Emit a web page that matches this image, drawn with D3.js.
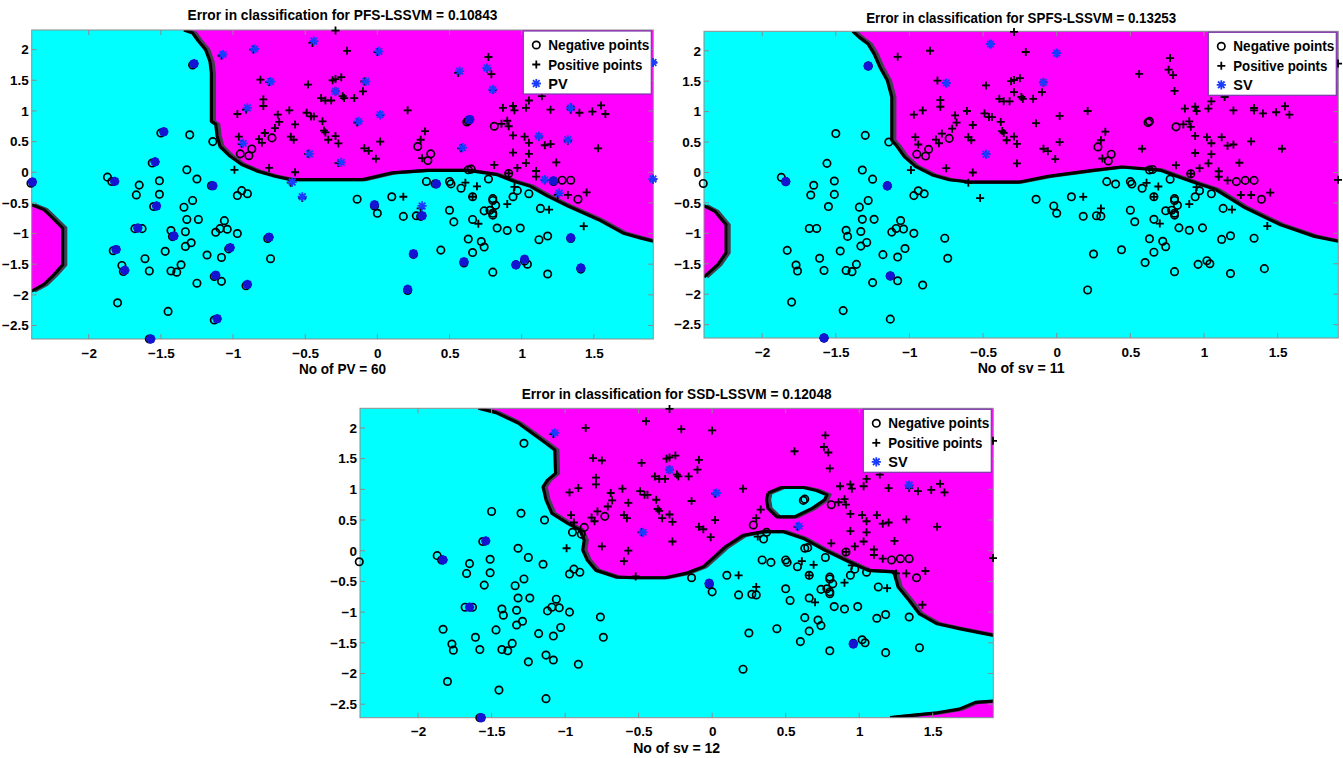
<!DOCTYPE html>
<html>
<head>
<meta charset="utf-8">
<script src="https://cdn.jsdelivr.net/npm/d3@7"></script>
<style>
  body { margin: 0; background: #fff; }
  text { font-family: "Liberation Sans", Arial, sans-serif; font-weight: bold; fill: #000; }
</style>
</head>
<body>
<svg id="chart" width="1343" height="758"></svg>
<script>
// data set (same points in all three panels)
var negativePoints = [
  [-2.40,-0.18],[-1.28,1.75],[-1.50,0.64],[-1.30,0.61],[-1.14,0.50],[-1.56,0.15],[-1.32,0.04],
  [-1.87,-0.08],[-1.84,-0.15],[-1.65,-0.21],[-1.51,-0.14],[-1.25,-0.11],[-1.15,-0.22],
  [-0.97,-0.38],[-0.94,-0.30],[-0.90,-0.35],[-1.67,-0.37],[-1.51,-0.36],[-1.55,-0.56],
  [-1.34,-0.57],[-1.28,-0.46],[-1.32,-0.77],[-1.24,-0.77],[-1.68,-0.92],[-1.63,-0.92],
  [-1.43,-0.95],[-1.42,-1.05],[-1.33,-0.97],[-1.29,-1.15],[-1.33,-1.21],[-1.47,-1.29],
  [-1.61,-1.41],[-1.83,-1.28],[-1.77,-1.52],[-1.76,-1.62],[-1.58,-1.61],[-1.43,-1.61],
  [-1.39,-1.63],[-1.36,-1.51],[-1.18,-1.35],[-1.08,-1.39],[-1.06,-0.79],[-1.12,-0.98],
  [-1.09,-0.92],[-1.04,-0.93],[-0.97,-1.00],[-1.03,-1.25],[-1.13,-1.70],[-1.08,-1.78],
  [-1.25,-1.81],[-0.91,-1.85],[-1.80,-2.13],[-1.45,-2.27],[-1.13,-2.41],[-1.58,-2.72],
  [-0.76,-1.08],[-0.74,-1.41],[-0.95,0.30],[-0.89,0.27],[-0.87,0.38],[-0.73,0.56],
  [0.28,0.42],[0.37,0.30],[0.35,0.19],[0.63,0.04],[0.65,0.05],[0.91,-0.02],[0.77,-0.11],
  [0.34,-0.15],[0.40,-0.19],[0.50,-0.15],[0.51,-0.19],[1.22,-0.15],[1.28,-0.13],[1.34,-0.13],
  [0.62,0.82],[0.63,0.84],[0.81,0.75],[-0.14,-0.44],[-0.02,-0.55],[0.00,-0.67],[0.10,-0.40],
  [0.18,-0.72],[0.27,-0.71],[0.30,-0.72],[0.25,-1.34],[0.44,-1.27],[0.21,-1.93],[0.58,-0.26],
  [0.66,-0.40],[0.50,-0.62],[0.53,-0.81],[0.66,-0.77],[0.74,-0.63],[0.80,-0.43],[0.80,-0.46],
  [0.82,-0.54],[0.80,-0.67],[0.80,-0.70],[0.78,-0.62],[0.83,-0.91],[0.90,-0.95],[0.99,-0.91],
  [0.94,-0.40],[0.97,-0.30],[1.05,-0.35],[1.13,-0.59],[0.63,-1.09],[0.72,-1.13],[0.74,-1.22],
  [0.66,-1.31],[0.60,-1.48],[0.80,-1.63],[0.96,-1.51],[1.02,-1.45],[1.04,-1.50],[1.12,-1.10],
  [1.18,-1.04],[1.34,-1.08],[1.18,-1.66],[1.41,-1.58],[1.39,-0.44]
];
var positivePoints = [
  [-0.29,2.31],[-1.08,1.90],[-0.86,2.00],[-0.81,1.51],[-0.48,1.43],[-0.31,1.50],[-0.29,1.52],
  [-0.25,1.55],[-0.79,1.19],[-0.79,1.08],[-0.91,1.02],[-0.97,0.95],[-0.69,0.94],[-0.68,0.82],
  [-0.61,1.01],[-0.57,0.78],[-0.49,0.97],[-0.46,0.91],[-0.44,0.91],[-0.39,1.21],[-0.36,1.17],
  [-0.32,1.17],[-0.24,1.24],[-0.23,1.21],[-0.16,1.21],[-0.38,0.83],[-0.37,0.68],[-0.36,0.65],
  [-0.71,0.72],[-0.78,0.64],[-0.82,0.54],[-0.80,0.48],[-0.96,0.58],[-0.94,0.46],[-0.60,0.58],
  [-0.58,0.53],[-0.34,0.53],[-0.29,0.59],[-0.27,0.47],[-0.99,0.04],[-0.75,0.07],[-0.57,0.00],
  [-0.52,-0.42],[-0.27,0.15],[-0.21,1.98],[-0.10,1.32],[-0.14,0.81],[0.02,0.93],[0.21,1.01],
  [0.02,0.50],[-0.09,0.39],[-0.06,0.35],[-0.01,0.22],[0.33,0.67],[0.30,0.53],[0.31,0.23],
  [0.58,0.39],[0.56,1.62],[0.77,1.88],[0.76,1.69],[0.79,1.60],[0.80,1.34],[0.87,1.05],
  [0.94,1.08],[0.95,1.01],[1.03,1.05],[1.05,1.17],[1.14,1.24],[1.20,1.02],[1.34,1.06],
  [1.34,1.02],[1.40,0.97],[1.49,0.99],[1.55,1.09],[1.58,0.95],[0.86,0.79],[0.90,0.84],
  [0.91,0.75],[0.94,0.60],[1.02,0.58],[1.05,0.48],[1.12,0.58],[1.16,0.44],[1.20,0.46],
  [1.32,0.51],[1.53,0.39],[0.94,0.32],[1.05,0.30],[1.03,0.15],[0.97,0.07],[0.81,0.12],
  [1.24,0.16],[1.10,0.02],[1.10,-0.07],[1.16,-0.13],[1.91,-0.12],[1.91,1.79],[0.18,-0.40],
  [0.30,-0.59],[0.69,-0.23],[0.70,-0.84],[0.90,-0.52],[0.95,-0.24],[1.19,-0.61],[1.25,-0.37],
  [1.32,-0.37],[1.45,-0.33],[1.43,-0.88],[0.66,-0.40],[0.91,-0.02],[0.61,-0.17],[-0.45,2.11],
  [-0.75,1.47],[-0.48,0.30],[0.00,1.96],[-0.09,1.48],[-0.29,1.32],[-0.60,-0.17]
];

// prototype / support vectors for each method
var pvOnNeg1 = [
  [-2.39,-0.16],[-1.82,-0.15],[-1.27,1.77],[-1.48,0.66],[-1.54,0.17],[-1.14,-0.22],[-1.53,-0.55],
  [-1.66,-0.91],[-1.41,-1.04],[-1.81,-1.26],[-1.75,-1.60],[-1.02,-1.23],[-0.75,-1.06],[-1.12,-1.68],
  [-0.90,-1.83],[-1.11,-2.39],[-1.57,-2.72],[-0.02,-0.53],[0.31,-0.71],[0.41,-0.19],[0.25,-1.33],
  [0.21,-1.91],[0.60,-1.46],[0.64,0.86],[0.96,-1.51],[1.02,-1.42],[1.34,-1.07],[1.41,-1.56],[1.22,-0.14]
];
var pvOnPos1 = [
  [-1.07,1.92],[-0.85,2.01],[-0.44,2.14],[0.01,1.97],[-0.74,1.48],[-0.29,1.32],[-0.08,1.48],
  [-0.90,1.05],[-0.13,0.83],[0.02,0.94],[-0.93,0.47],[-0.47,0.30],[-0.25,0.16],[-0.59,-0.16],
  [-0.52,-0.40],[0.31,-0.55],[0.57,1.65],[0.76,1.70],[0.80,1.35],[0.59,0.40],[1.12,0.59],
  [1.32,0.53],[1.34,1.05],[1.16,-0.12],[1.26,-0.34],[1.91,1.79],[1.91,-0.11]
];
var svOnNeg2 = [[-1.28,1.75],[-1.84,-0.15],[-1.15,-0.22],[-1.13,-1.70],[-1.58,-2.72]];
var svOnPos2 = [[-0.45,2.11],[-0.75,1.47],[-0.48,0.30],[0.00,1.96],[-0.09,1.48]];
var svOnNeg3 = [[-1.83,-0.15],[-1.54,0.16],[-1.65,-0.92],[-0.02,-0.53],[0.96,-1.52],[-1.57,-2.72]];
var svOnPos3 = [[-1.07,1.92],[-0.29,1.32],[0.03,0.94],[-0.47,0.30],[0.59,0.40],[1.34,1.07]];

// decision boundaries
var bound1Upper = [[-1.34,2.32],[-1.28,2.27],[-1.24,2.14],[-1.19,2.00],[-1.16,1.81],[-1.15,1.62],
  [-1.15,0.83],[-1.12,0.78],[-1.11,0.59],[-1.09,0.42],[-1.02,0.26],[-0.94,0.125],[-0.83,0.016],
  [-0.71,-0.065],[-0.60,-0.12],[-0.10,-0.12],[0.10,-0.01],[0.34,0.03],[0.63,0.03],[0.83,-0.04],
  [0.95,-0.15],[1.06,-0.23],[1.18,-0.39],[1.32,-0.55],[1.53,-0.77],[1.70,-0.99],[1.82,-1.07],[1.912,-1.125]];
var bound1Left = [[-2.395,-0.53],[-2.31,-0.61],[-2.24,-0.77],[-2.18,-0.91],[-2.18,-1.51],
  [-2.24,-1.67],[-2.31,-1.83],[-2.395,-1.94]];
var bound2Upper = [[-1.385,2.32],[-1.34,2.22],[-1.28,2.11],[-1.24,1.95],[-1.20,1.73],[-1.15,1.51],
  [-1.12,1.24],[-1.12,0.53],[-1.085,0.43],[-1.035,0.26],[-0.96,0.10],[-0.845,-0.04],[-0.73,-0.12],
  [-0.58,-0.16],[-0.26,-0.16],[-0.06,-0.065],[0.23,0.03],[0.44,0.09],[0.54,0.07],[0.70,0.04],
  [0.82,-0.065],[0.96,-0.185],[1.08,-0.28],[1.28,-0.58],[1.52,-0.86],[1.75,-1.05],[1.912,-1.13]];
var bound2Left = [[-2.395,-0.545],[-2.32,-0.64],[-2.245,-0.86],[-2.245,-1.32],[-2.30,-1.51],[-2.395,-1.72]];
var bound3Upper = [[-1.59,2.32],[-1.47,2.25],[-1.32,2.08],[-1.21,1.89],[-1.13,1.75],[-1.07,1.64],
  [-1.065,1.26],[-1.12,1.15],[-1.15,1.04],[-1.13,0.83],[-1.09,0.61],[-0.985,0.45],[-0.90,0.34],
  [-0.87,0.17],[-0.88,0.01],[-0.85,-0.15],[-0.79,-0.32],[-0.65,-0.43],[-0.53,-0.44],[-0.32,-0.44],
  [-0.18,-0.37],[-0.06,-0.26],[0.015,-0.10],[0.09,0.064],[0.21,0.25],[0.35,0.31],[0.485,0.31],
  [0.62,0.20],[0.765,0.01],[0.93,-0.18],[1.06,-0.32],[1.235,-0.345],[1.265,-0.59],[1.34,-0.81],
  [1.41,-1.03],[1.53,-1.19],[1.68,-1.27],[1.912,-1.38]];
var bound3Island = [[0.38,0.94],[0.47,1.03],[0.62,1.03],[0.71,0.98],[0.78,0.91],[0.765,0.83],
  [0.68,0.69],[0.56,0.55],[0.44,0.55],[0.38,0.69],[0.37,0.83]];
var bound3Lower = [[1.21,-2.72],[1.32,-2.69],[1.53,-2.64],[1.68,-2.58],[1.79,-2.47],[1.912,-2.45]];

var xTicks = [-2, -1.5, -1, -0.5, 0, 0.5, 1, 1.5];
var yTicks = [-2.5, -2, -1.5, -1, -0.5, 0, 0.5, 1, 1.5, 2];
var xExtent = [-2.395, 1.912];
var yExtent = [-2.72, 2.32];

var panels = [
  { id: "p1", left: 31.7, right: 653.3, top: 30, bottom: 339, titleY: 20,
    title: "Error in classification for PFS-LSSVM = 0.10843", xlabel: "No of PV = 60",
    svName: "PV", svNeg: pvOnNeg1, svPos: pvOnPos1, upper: bound1Upper, leftReg: bound1Left },
  { id: "p2", left: 704, right: 1338.3, top: 31.3, bottom: 338, titleY: 23,
    title: "Error in classification for SPFS-LSSVM = 0.13253", xlabel: "No of sv = 11",
    svName: "SV", svNeg: svOnNeg2, svPos: svOnPos2, upper: bound2Upper, leftReg: bound2Left },
  { id: "p3", left: 360, right: 993.3, top: 408.3, bottom: 717.7, titleY: 399,
    title: "Error in classification for SSD-LSSVM = 0.12048", xlabel: "No of sv = 12",
    svName: "SV", svNeg: svOnNeg3, svPos: svOnPos3, upper: bound3Upper, island: bound3Island, lower: bound3Lower }
];

var svg = d3.select("#chart");

var plusPath = "M-4,0H4M0,-4V4";
var starPath = "M-4.6,0H4.6M0,-4.6V4.6M-3.3,-3.3L3.3,3.3M-3.3,3.3L3.3,-3.3";

panels.forEach(function(p) {
  var x = d3.scaleLinear().domain(xExtent).range([p.left, p.right]);
  var y = d3.scaleLinear().domain(yExtent).range([p.bottom, p.top]);
  var line = d3.line().x(function(d) { return x(d[0]); }).y(function(d) { return y(d[1]); });
  var g = svg.append("g").attr("id", p.id);

  g.append("clipPath").attr("id", "clip-" + p.id)
    .append("rect").attr("x", p.left).attr("y", p.top)
    .attr("width", p.right - p.left).attr("height", p.bottom - p.top);

  var area = g.append("g").attr("clip-path", "url(#clip-" + p.id + ")");
  area.append("rect").attr("x", p.left).attr("y", p.top)
    .attr("width", p.right - p.left).attr("height", p.bottom - p.top).attr("fill", "#00ffff");

  // magenta regions
  var regions = [];
  regions.push({ pts: p.upper.concat([[xExtent[1], yExtent[1]]]), edge: p.upper, fill: "#ff00ff" });
  if (p.leftReg) regions.push({ pts: p.leftReg, edge: p.leftReg, fill: "#ff00ff" });
  if (p.lower) regions.push({ pts: p.lower.concat([[xExtent[1], yExtent[0]]]), edge: p.lower, fill: "#ff00ff" });
  if (p.island) regions.push({ pts: p.island, edge: p.island.concat([p.island[0]]), fill: "#00ffff" });

  regions.forEach(function(r) {
    area.append("path").attr("d", line(r.pts) + "Z").attr("fill", r.fill);
  });
  regions.forEach(function(r) {
    area.append("path").attr("d", line(r.edge)).attr("fill", "none")
      .attr("stroke", "#40404e").attr("stroke-width", 3.2).attr("transform", "translate(3,0)");
    area.append("path").attr("d", line(r.edge)).attr("fill", "none")
      .attr("stroke", "#000").attr("stroke-width", 3.2).attr("stroke-linejoin", "round");
  });

  // frame + ticks (inside, on all four sides)
  g.append("rect").attr("x", p.left).attr("y", p.top)
    .attr("width", p.right - p.left).attr("height", p.bottom - p.top)
    .attr("fill", "none").attr("stroke", "#8c8c8c").attr("stroke-width", 1);
  xTicks.forEach(function(t) {
    g.append("line").attr("x1", x(t)).attr("x2", x(t)).attr("y1", p.bottom).attr("y2", p.bottom - 5).attr("stroke", "#8c8c8c");
    g.append("line").attr("x1", x(t)).attr("x2", x(t)).attr("y1", p.top).attr("y2", p.top + 5).attr("stroke", "#8c8c8c");
  });
  yTicks.forEach(function(t) {
    g.append("line").attr("x1", p.left).attr("x2", p.left + 5).attr("y1", y(t)).attr("y2", y(t)).attr("stroke", "#8c8c8c");
    g.append("line").attr("x1", p.right).attr("x2", p.right - 5).attr("y1", y(t)).attr("y2", y(t)).attr("stroke", "#8c8c8c");
  });

  var xAxis = g.append("g").attr("transform", "translate(0," + p.bottom + ")")
    .call(d3.axisBottom(x).tickValues(xTicks).tickSize(0).tickPadding(9).tickFormat(d3.format("")));
  var yAxis = g.append("g").attr("transform", "translate(" + p.left + ",0)")
    .call(d3.axisLeft(y).tickValues(yTicks).tickSize(0).tickPadding(3).tickFormat(d3.format("")));
  [xAxis, yAxis].forEach(function(a) {
    a.select(".domain").remove();
    a.selectAll("text").attr("font-size", 13.5).style("font-family", "Liberation Sans, Arial, sans-serif")
      .style("font-weight", "bold").attr("fill", "#000");
  });

  // points
  g.append("g").selectAll("circle").data(negativePoints).enter().append("circle")
    .attr("cx", function(d) { return x(d[0]); }).attr("cy", function(d) { return y(d[1]); })
    .attr("r", 3.7).attr("fill", "none").attr("stroke", "#000").attr("stroke-width", 1.7);
  g.append("g").selectAll("path").data(positivePoints).enter().append("path")
    .attr("d", plusPath).attr("transform", function(d) { return "translate(" + x(d[0]) + "," + y(d[1]) + ")"; })
    .attr("stroke", "#000").attr("stroke-width", 1.8);

  // PV / SV markers
  g.append("g").selectAll("circle").data(p.svNeg).enter().append("circle")
    .attr("cx", function(d) { return x(d[0]); }).attr("cy", function(d) { return y(d[1]); })
    .attr("r", 4.5).attr("fill", "#1414d2");
  g.append("g").selectAll("path").data(p.svNeg).enter().append("path")
    .attr("d", starPath).attr("transform", function(d) { return "translate(" + x(d[0]) + "," + y(d[1]) + ")"; })
    .attr("stroke", "#1414d2").attr("stroke-width", 1.8);
  g.append("g").selectAll("path").data(p.svPos).enter().append("path")
    .attr("d", starPath).attr("transform", function(d) { return "translate(" + x(d[0]) + "," + y(d[1]) + ")"; })
    .attr("stroke", "#1a3cff").attr("stroke-width", 1.8);

  // legend
  var lw = 128, lh = 63;
  var lx = p.right - lw - 2, ly = p.top + 1;
  var lg = g.append("g").attr("transform", "translate(" + lx + "," + ly + ")");
  lg.append("rect").attr("width", lw).attr("height", lh).attr("fill", "#fff")
    .attr("stroke", "#7a3aa8").attr("stroke-width", 1.2);
  var rows = [14, 33.5, 52.5];
  lg.append("circle").attr("cx", 13).attr("cy", rows[0]).attr("r", 3.7)
    .attr("fill", "none").attr("stroke", "#000").attr("stroke-width", 1.7);
  lg.append("path").attr("d", plusPath).attr("transform", "translate(13," + rows[1] + ")")
    .attr("stroke", "#000").attr("stroke-width", 1.8);
  lg.append("path").attr("d", starPath).attr("transform", "translate(13," + rows[2] + ")")
    .attr("stroke", "#1a3cff").attr("stroke-width", 1.8);
  [["Negative points", 0, 101], ["Positive points", 1, 94], [p.svName, 2, 0]].forEach(function(r) {
    var t = lg.append("text").attr("x", 25).attr("y", rows[r[1]] + 5.2).attr("font-size", 14.5).text(r[0]);
    if (r[2]) t.attr("textLength", r[2]).attr("lengthAdjust", "spacingAndGlyphs");
  });

  // title and x label
  g.append("text").attr("x", (p.left + p.right) / 2).attr("y", p.titleY)
    .attr("text-anchor", "middle").attr("font-size", 14)
    .attr("textLength", 310).attr("lengthAdjust", "spacingAndGlyphs").text(p.title);
  g.append("text").attr("x", (p.left + p.right) / 2).attr("y", p.bottom + 35)
    .attr("text-anchor", "middle").attr("font-size", 14)
    .attr("textLength", 87).attr("lengthAdjust", "spacingAndGlyphs").text(p.xlabel);
});
</script>
</body>
</html>
